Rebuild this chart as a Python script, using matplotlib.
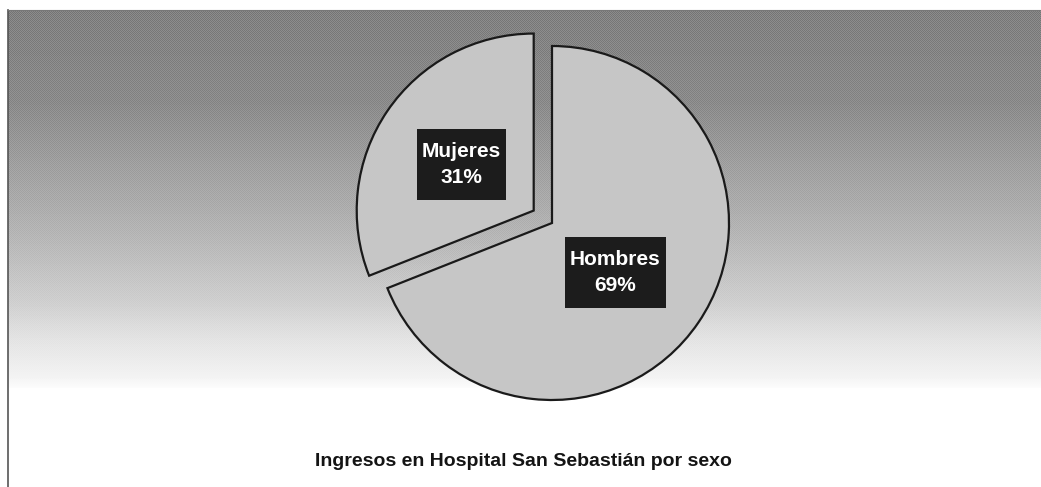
import numpy as np
import matplotlib.pyplot as plt
from matplotlib.lines import Line2D
from matplotlib.patches import Rectangle

# Data
labels = ['Hombres', 'Mujeres']
shares = [69, 31]
explode = [0, 0.125]
title = 'Ingresos en Hospital San Sebastián por sexo'

W, H = 1041, 487
fig = plt.figure(figsize=(W / 100, H / 100), dpi=100)
fig.patch.set_facecolor('white')

# Gray gradient backdrop with a fine halftone-like dot texture
rows, cols = 378, W - 8
bg = fig.add_axes([8 / W, (H - 10 - rows) / H, cols / W, rows / H])
y = np.arange(rows)[:, None]
grad = np.interp(y, [0, 90, 150, 220, 290, 330, 365, 378],
                 [128, 138, 158, 180, 206, 228, 242, 252])
checker = ((np.arange(rows)[:, None] + np.arange(cols)[None, :]) % 2) * 2 - 1
img = grad + checker * 12 * (1 - y / rows)
img = np.clip(img, 0, 255) / 255
bg.imshow(img, cmap='gray', vmin=0, vmax=1, aspect='auto', interpolation='nearest')
bg.axis('off')

# Frame lines (left and top)
fig.add_artist(Line2D([8 / W, 8 / W], [0, (H - 10) / H], color='#555555', lw=1.2))
fig.add_artist(Line2D([8 / W, 1], [(H - 10) / H, (H - 10) / H], color='#777777', lw=0.8))

# Pie axes: center at (552, 223) px, radius 177 px
r = 177
a = 1.3
side = 2 * a * r
ax = fig.add_axes([(552 - side / 2) / W, (H - 223 - side / 2) / H, side / W, side / H])
ax.axis('off')

pie_labels = [f'{l}\n{s}%' for l, s in zip(labels, shares)]
wedges, texts = ax.pie(shares, labels=pie_labels, explode=explode, startangle=90,
                       counterclock=False, labeldistance=0.46,
                       colors=['#c6c6c6', '#c6c6c6'],
                       wedgeprops=dict(edgecolor='#1a1a1a', linewidth=1.6),
                       textprops=dict(color='white', fontsize=15, fontweight='bold',
                                      family='Liberation Sans', linespacing=1.45),
                       frame=False)
ax.set_xlim(-a, a)
ax.set_ylim(-a, a)
ax.set_aspect('equal')

# small nudges of the label boxes (pixels -> data units)
nudges = [(-4, -4), (-5, 0)]
for t, (dx, dy) in zip(texts, nudges):
    x0, y0 = t.get_position()
    t.set_position((x0 + dx / r, y0 + dy / r))
    t.set_ha('center')
    t.set_va('center')

# dark boxes behind the labels, with more padding above/below than at the sides
fig.canvas.draw()
renderer = fig.canvas.get_renderer()
for t in texts:
    bb = t.get_window_extent(renderer)
    label = t.get_text()
    t.remove()
    px, py = 5, 13
    fig.add_artist(Rectangle((bb.x0 - px, bb.y0 - py), bb.width + 2 * px,
                             bb.height + 2 * py, transform=None,
                             facecolor='#1c1c1c', edgecolor='none', zorder=4))
    fig.text((bb.x0 + bb.x1) / 2 / W, (bb.y0 + bb.y1) / 2 / H, label,
             ha='center', va='center', color='white', fontsize=15,
             fontweight='bold', family='Liberation Sans', linespacing=1.45,
             multialignment='center', zorder=6)

fig.text(523 / W, 1 - 462 / H, title, ha='center', va='center', fontsize=14,
         fontweight='bold', family='Liberation Sans', color='#141414')

fig.savefig('out.png', dpi=100)
